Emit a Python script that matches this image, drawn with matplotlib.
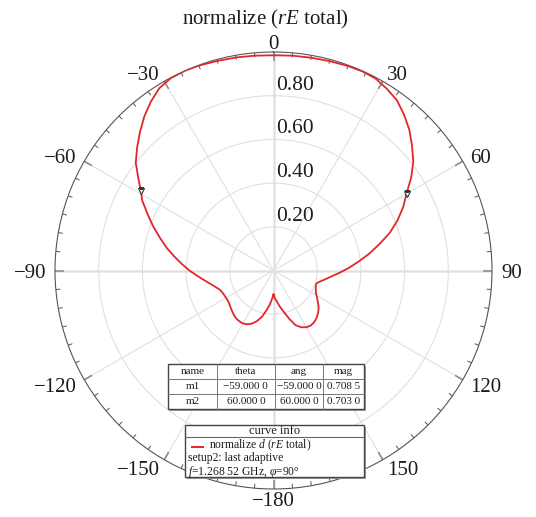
import numpy as np
import matplotlib
matplotlib.use('Agg')
import matplotlib.pyplot as plt
from matplotlib.patches import Rectangle
from matplotlib.lines import Line2D

W, H = 536, 517
plt.rcParams.update({
    'font.family': 'Liberation Serif',
    'mathtext.fontset': 'custom',
    'mathtext.rm': 'Liberation Serif',
    'mathtext.it': 'Liberation Serif:italic',
    'axes.unicode_minus': True,
})

# ---------- pattern data (theta in deg, normalized rE) ----------
theta_deg = [-180, -177, -174, -170, -166, -162, -158, -154, -150, -146, -142, -138,
             -134, -130, -126, -122, -118, -114, -110, -106, -102, -98, -94, -90,
             -86, -82, -78, -74, -70, -66, -62, -59, -56, -52, -48, -44, -40, -36,
             -32, -28, -24, -20, -15, -10, -5, 0,
             5, 10, 15, 20, 24, 28, 32, 36, 40, 44, 48, 52, 56, 60, 64, 68, 72, 76,
             80, 84, 88, 92, 96, 100, 104, 107, 110, 114, 118, 122, 126, 130, 134,
             138, 142, 146, 150, 154, 158, 162, 166, 170, 174, 177, 180]
rE_norm = [0.110, 0.130, 0.155, 0.185, 0.218, 0.243, 0.262, 0.274, 0.280, 0.280, 0.278, 0.272,
           0.265, 0.258, 0.252, 0.250, 0.251, 0.254, 0.260, 0.275, 0.295, 0.320, 0.350, 0.385,
           0.420, 0.458, 0.500, 0.540, 0.585, 0.630, 0.680, 0.7085, 0.745, 0.800, 0.840, 0.880,
           0.920, 0.955, 0.985, 0.998, 1.000, 0.998, 0.993, 0.990, 0.987, 0.985,
           0.987, 0.989, 0.992, 0.996, 0.998, 0.995, 0.980, 0.962, 0.930, 0.895, 0.853, 0.812,
           0.760, 0.703, 0.660, 0.612, 0.560, 0.500, 0.445, 0.392, 0.345, 0.302, 0.265, 0.238,
           0.215, 0.205, 0.206, 0.212, 0.220, 0.235, 0.252, 0.270, 0.283, 0.294, 0.301, 0.304,
           0.300, 0.289, 0.270, 0.232, 0.196, 0.168, 0.142, 0.128, 0.110]

# markers
m_names = ['m1', 'm2']
m_theta = [-59.0, 60.0]
m_mag = [0.7085, 0.7030]

r_ticks = [0.2, 0.4, 0.6, 0.8]
ang_ticks = [0, 30, 60, 90, 120, 150, 180, -150, -120, -90, -60, -30]

RED = '#e3262b'
INK = '#1c1c1c'
R_PX = 218.5
CX, CY = 273.5, 270.5


def fx(x):
    return x / W


def fy(y):
    return 1 - y / H


def mfmt(v):
    s = f'{v:.4f}'
    s = s[:-1] + ' ' + s[-1]
    return s.replace('-', '\u2212')


fig = plt.figure(figsize=(W / 100, H / 100), dpi=100)
ax = fig.add_axes([fx(CX - R_PX), fy(CY + R_PX), 2 * R_PX / W, 2 * R_PX / H], projection='polar')
ax.set_theta_zero_location('N')
ax.set_theta_direction(-1)
ax.set_rlim(0, 1)
ax.set_thetagrids(range(0, 360, 30), labels=[])
ax.set_rgrids(r_ticks, labels=[])
ax.grid(color='#e0e0e0', lw=0.8)
ax.tick_params(length=0)
ax.spines['polar'].set_color('#555555')
ax.spines['polar'].set_linewidth(0.8)

# main axis lines
for a in (0, 90, 180, 270):
    t = np.deg2rad(a)
    ax.plot([t, t], [0, 1], color='#e6e6e6', lw=1.8, zorder=1)

# ticks around the rim
for a in range(0, 360, 5):
    t = np.deg2rad(a)
    if a % 30 == 0:
        ax.plot([t, t], [1, 1 - 8 / R_PX], color='#8c8c8c', lw=1.2, zorder=2)
    else:
        ax.plot([t, t], [1, 1 - 4 / R_PX], color='#555555', lw=0.7, zorder=2)

# radial labels
for r in r_ticks:
    ax.annotate(f'{r:.2f}', xy=(0, r), xytext=(3, 1), textcoords='offset pixels',
                ha='left', va='bottom', fontsize=15.5, color=INK)

# angle labels
for a in ang_ticks:
    t = np.deg2rad(a)
    sx, sy = np.sin(t), np.cos(t)
    ha = 'left' if sx > 0.1 else ('right' if sx < -0.1 else 'center')
    txt = str(a).replace('-', '\u2212')
    if a == 180:
        txt = '\u2212180'
    ax.annotate(txt, xy=(t, 1), xytext=(9 * sx, 10 * sy), textcoords='offset pixels',
                ha=ha, va='center_baseline', fontsize=15, color=INK, annotation_clip=False)

ax.plot(np.deg2rad(theta_deg), rE_norm, color=RED, lw=1.3, zorder=5)
ax.plot(np.deg2rad(m_theta), m_mag, 'v', ms=5, mfc='white', mec='#333333', mew=0.8, zorder=6)

fig.text(fx(265.5), fy(19), r'normalize ($rE$ total)', ha='center', va='center', fontsize=15, color=INK)

# ---------- marker table ----------
cols = [168.3, 216.7, 275.0, 323.3, 364.3]
rows = [364.0, 379.0, 394.0, 409.3]
fig.patches.append(Rectangle((fx(cols[0] + 2), fy(rows[-1] + 2)), (cols[-1] - cols[0]) / W,
                             (rows[-1] - rows[0]) / H, transform=fig.transFigure,
                             fc='#a0a0a0', ec='none', zorder=10))
fig.patches.append(Rectangle((fx(cols[0]), fy(rows[-1])), (cols[-1] - cols[0]) / W,
                             (rows[-1] - rows[0]) / H, transform=fig.transFigure,
                             fc='white', ec='#444444', lw=1.0, zorder=11))
for x in cols[1:-1]:
    fig.lines.append(Line2D([fx(x), fx(x)], [fy(rows[0]), fy(rows[-1])], transform=fig.transFigure,
                            color='#777777', lw=0.7, zorder=12))
for y in rows[1:-1]:
    fig.lines.append(Line2D([fx(cols[0]), fx(cols[-1])], [fy(y), fy(y)], transform=fig.transFigure,
                            color='#777777', lw=0.7, zorder=12))
table = [['name', 'theta', 'ang', 'mag']]
for n, t, m in zip(m_names, m_theta, m_mag):
    table.append([n, mfmt(t), mfmt(t), mfmt(m)])
for i, row in enumerate(table):
    yc = (rows[i] + rows[i + 1]) / 2
    for j, cell in enumerate(row):
        xc = (cols[j] + cols[j + 1]) / 2
        fig.text(fx(xc), fy(yc), cell, ha='center', va='center', fontsize=8, color=INK, zorder=13)

# ---------- curve info box ----------
bx0, bx1, by0, by1 = 185.0, 364.0, 425.0, 477.3
fig.patches.append(Rectangle((fx(bx0 + 2), fy(by1 + 2)), (bx1 - bx0) / W, (by1 - by0) / H,
                             transform=fig.transFigure, fc='#a0a0a0', ec='none', zorder=10))
fig.patches.append(Rectangle((fx(bx0), fy(by1)), (bx1 - bx0) / W, (by1 - by0) / H,
                             transform=fig.transFigure, fc='white', ec='#444444', lw=1.0, zorder=11))
fig.lines.append(Line2D([fx(bx0), fx(bx1)], [fy(437.3), fy(437.3)], transform=fig.transFigure,
                        color='#666666', lw=0.8, zorder=12))
fig.text(fx((bx0 + bx1) / 2), fy(431), 'curve info', ha='center', va='center', fontsize=9,
         color=INK, zorder=13)
fig.lines.append(Line2D([fx(191.7), fx(203.3)], [fy(446.5), fy(446.5)], transform=fig.transFigure,
                        color=RED, lw=1.4, zorder=12))
fig.text(fx(209.3), fy(445.5), r'normalize $d$ ($rE$ total)', ha='left', va='center',
         fontsize=8.4, color=INK, zorder=13)
fig.text(fx(188.3), fy(465.6), 'setup2: last adaptive\n' + r'$f$=1.268 52 GHz, $\varphi$=90°',
         ha='left', va='center', fontsize=8.4, linespacing=1.0, color=INK, zorder=13)

fig.savefig('out.png', dpi=100)
